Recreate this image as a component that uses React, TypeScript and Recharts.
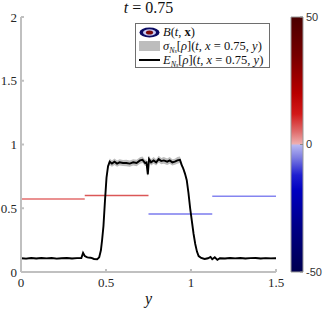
import React from 'react';
import { ComposedChart, Line, Area, XAxis, YAxis, ReferenceLine, BarChart, Bar } from 'recharts';

// sample positions along y (x = 0.75 slice)
const yPos = [
  0.0, 0.03, 0.06, 0.09, 0.12, 0.15, 0.18, 0.21, 0.24, 0.27,
  0.3, 0.33, 0.355, 0.365, 0.375, 0.39, 0.41, 0.43, 0.448, 0.46,
  0.47, 0.477, 0.485, 0.494, 0.503, 0.512, 0.522, 0.535, 0.55, 0.565,
  0.58, 0.6, 0.62, 0.64, 0.66, 0.68, 0.7, 0.715, 0.73, 0.738,
  0.746, 0.753, 0.765, 0.78, 0.795, 0.81, 0.825, 0.84, 0.86, 0.875,
  0.89, 0.905, 0.92, 0.935, 0.945, 0.955, 0.965, 0.975, 0.985, 0.995,
  1.005, 1.015, 1.025, 1.035, 1.045, 1.06, 1.08, 1.1, 1.115, 1.125,
  1.14, 1.155, 1.17, 1.2, 1.23, 1.26, 1.29, 1.32, 1.35, 1.38,
  1.41, 1.44, 1.47, 1.5,
];

// E_Ns[rho]
const meanVals = [
  0.108, 0.105, 0.11, 0.106, 0.11, 0.107, 0.11, 0.105, 0.108, 0.11,
  0.106, 0.109, 0.11, 0.15, 0.125, 0.115, 0.112, 0.102, 0.1, 0.115,
  0.17, 0.25, 0.36, 0.56, 0.74, 0.83, 0.865, 0.85, 0.865, 0.85,
  0.86, 0.855, 0.855, 0.85, 0.86, 0.855, 0.875, 0.88, 0.855, 0.86,
  0.765, 0.885, 0.86, 0.875, 0.86, 0.885, 0.87, 0.875, 0.865, 0.875,
  0.86, 0.865, 0.875, 0.88, 0.84, 0.81, 0.77, 0.72, 0.62, 0.5,
  0.4, 0.3, 0.22, 0.16, 0.125, 0.11, 0.102, 0.108, 0.118, 0.1,
  0.115, 0.095, 0.108, 0.106, 0.11, 0.107, 0.11, 0.106, 0.109, 0.11,
  0.106, 0.109, 0.107, 0.108,
];

// sigma_Ns[rho]
const sigmaVals = [
  0.006, 0.006, 0.006, 0.006, 0.006, 0.006, 0.006, 0.006, 0.006, 0.006,
  0.006, 0.006, 0.006, 0.01, 0.008, 0.006, 0.006, 0.006, 0.006, 0.008,
  0.012, 0.012, 0.012, 0.012, 0.014, 0.02, 0.026, 0.025, 0.026, 0.024,
  0.025, 0.024, 0.025, 0.024, 0.025, 0.026, 0.025, 0.026, 0.024, 0.025,
  0.02, 0.026, 0.025, 0.026, 0.024, 0.026, 0.025, 0.026, 0.025, 0.026,
  0.025, 0.024, 0.026, 0.025, 0.02, 0.016, 0.014, 0.012, 0.012, 0.012,
  0.012, 0.012, 0.01, 0.01, 0.008, 0.006, 0.006, 0.006, 0.006, 0.006,
  0.006, 0.006, 0.006, 0.006, 0.006, 0.006, 0.006, 0.006, 0.006, 0.006,
  0.006, 0.006, 0.006, 0.006,
];

// B(t, x) along the slice, piecewise constant
const segStart = [0, 0.375, 0.75, 1.125];
const segEnd = [0.375, 0.75, 1.125, 1.5];
const segLevel = [0.573, 0.6, 0.455, 0.594];
const segColor = ['#e36d6d', '#db5757', '#7b7bee', '#8585f0'];

const xTicks = [0, 0.5, 1, 1.5];
const yTicks = [0, 0.5, 1, 1.5, 2];
const cbTicks = [-50, 0, 50];
const cbRange = [-50, 50];

const serif = '"Liberation Serif", "DejaVu Serif", serif';

const rows = yPos.map((y, i) => ({
  y,
  mean: meanVals[i],
  band: [meanVals[i] - sigmaVals[i], meanVals[i] + sigmaVals[i]],
}));

const cbData = [{ name: 'B', range: cbRange }];

function LegendBox() {
  const row: React.CSSProperties = { display: 'flex', alignItems: 'center', height: 14, lineHeight: '13px' };
  const icon: React.CSSProperties = { width: 22, marginRight: 3, display: 'flex', justifyContent: 'center' };
  const sub: React.CSSProperties = { fontSize: 8, verticalAlign: 'sub', lineHeight: 0 };
  return (
    <div style={{
      position: 'absolute', left: 135, top: 23, width: 135, height: 45,
      border: '1px solid #6e6e6e', background: '#fff', fontFamily: serif,
      fontSize: 12.5, color: '#111', padding: '1px 0 0 2px', boxSizing: 'border-box',
      whiteSpace: 'nowrap',
    }}>
      <div style={row}>
        <div style={icon}>
          <svg width={21} height={11}>
            <ellipse cx={10.5} cy={5.5} rx={10} ry={5} fill="#0b0b62" />
            <ellipse cx={10.5} cy={5.5} rx={6.5} ry={3.3} fill="#c9c9f2" />
            <ellipse cx={10.5} cy={5.5} rx={3.6} ry={2} fill="#7a0a0a" />
          </svg>
        </div>
        <span><i>B</i>(<i>t</i>, <b>x</b>)</span>
      </div>
      <div style={row}>
        <div style={icon}>
          <div style={{ width: 21, height: 10, background: '#bdbdbd' }} />
        </div>
        <span><i>σ</i><span style={sub}><i>N<span style={{ fontSize: 6 }}>s</span></i></span>[<i>ρ</i>](<i>t</i>, <i>x</i> = 0.75, <i>y</i>)</span>
      </div>
      <div style={row}>
        <div style={icon}>
          <div style={{ width: 21, height: 2, background: '#000' }} />
        </div>
        <span><i>E</i><span style={sub}><i>N<span style={{ fontSize: 6 }}>s</span></i></span>[<i>ρ</i>](<i>t</i>, <i>x</i> = 0.75, <i>y</i>)</span>
      </div>
    </div>
  );
}

export default function App() {
  const tickStyle = { fill: '#262626', fontSize: 13, fontFamily: serif };
  return (
    <div style={{ position: 'absolute', left: 0, top: 0, width: 324, height: 309, background: '#fff' }}>
      <div style={{
        position: 'absolute', left: 0, top: 0, width: 297, textAlign: 'center',
        fontFamily: serif, fontSize: 16, color: '#111', lineHeight: '16px',
      }}>
        <i>t</i> = 0.75
      </div>

      <div style={{ position: 'absolute', left: 0, top: 0 }}>
        <ComposedChart width={324} height={309} data={rows} margin={{ top: 17, right: 48, bottom: 0, left: 0 }}>
          <XAxis
            dataKey="y"
            type="number"
            domain={[0, 1.5]}
            ticks={xTicks}
            tickFormatter={(v) => String(v)}
            height={37}
            stroke="#c0c0c0"
            strokeWidth={2}
            tickSize={-3}
            tickMargin={9}
            tick={tickStyle}
            label={{ value: 'y', position: 'insideBottom', offset: 5, fontStyle: 'italic', fontSize: 16, fontFamily: serif, fill: '#111' }}
          />
          <YAxis
            type="number"
            domain={[0, 2]}
            ticks={yTicks}
            width={21}
            stroke="#c0c0c0"
            strokeWidth={2}
            tickSize={-3}
            tickMargin={7}
            tick={tickStyle}
          />
          {segStart.map((s, i) => (
            <ReferenceLine
              key={i}
              segment={[{ x: s, y: segLevel[i] }, { x: segEnd[i], y: segLevel[i] }]}
              stroke={segColor[i]}
              strokeWidth={1.6}
            />
          ))}
          <Area
            type="linear"
            dataKey="band"
            fill="#bdbdbd"
            fillOpacity={1}
            stroke="none"
            isAnimationActive={false}
          />
          <Line
            type="linear"
            dataKey="mean"
            stroke="#000"
            strokeWidth={1.9}
            dot={false}
            isAnimationActive={false}
          />
        </ComposedChart>
      </div>

      <div style={{ position: 'absolute', left: 280, top: 0 }}>
        <BarChart width={44} height={309} data={cbData} margin={{ top: 17, right: 0, bottom: 37, left: 11 }} barCategoryGap={0}>
          <defs>
            <linearGradient id="cbGrad" x1="0" y1="0" x2="0" y2="1">
              <stop offset="0%" stopColor="#4a0000" />
              <stop offset="15%" stopColor="#760000" />
              <stop offset="30%" stopColor="#b80000" />
              <stop offset="38%" stopColor="#d21818" />
              <stop offset="45%" stopColor="#e06c6c" />
              <stop offset="49.8%" stopColor="#efb0b0" />
              <stop offset="50.2%" stopColor="#b9b9f2" />
              <stop offset="55%" stopColor="#7f7fe2" />
              <stop offset="62%" stopColor="#1e1ed0" />
              <stop offset="68%" stopColor="#0000c0" />
              <stop offset="82%" stopColor="#000088" />
              <stop offset="100%" stopColor="#000050" />
            </linearGradient>
          </defs>
          <XAxis dataKey="name" type="category" hide />
          <YAxis
            orientation="right"
            type="number"
            domain={cbRange}
            ticks={cbTicks}
            width={21}
            axisLine={false}
            tickLine={{ stroke: '#8a8a8a' }}
            tickSize={-3}
            tickMargin={6}
            tick={{ fill: '#333', fontSize: 11, fontFamily: '"Liberation Sans", Arial, sans-serif' }}
          />
          <Bar dataKey="range" fill="url(#cbGrad)" stroke="#9a9a9a" strokeWidth={1} isAnimationActive={false} />
        </BarChart>
      </div>

      <LegendBox />
    </div>
  );
}
